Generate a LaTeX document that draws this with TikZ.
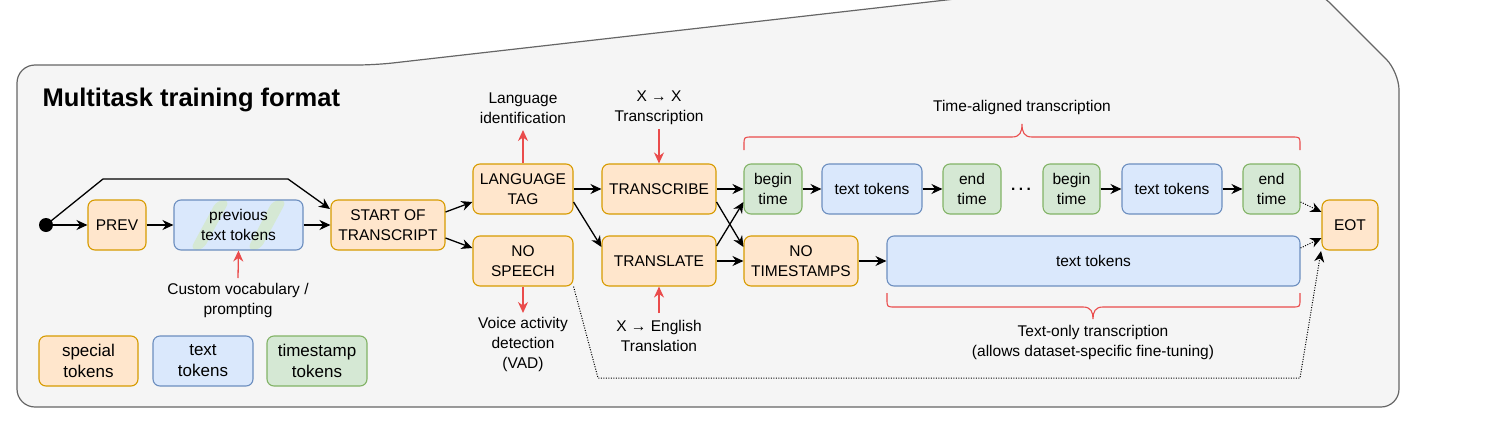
\documentclass[tikz,border=0pt]{standalone}
\usepackage{fontspec}
\setmainfont{Liberation Sans}
\usetikzlibrary{arrows.meta,calc}
\definecolor{ofill}{HTML}{FFE6CC}
\definecolor{odraw}{HTML}{D79B00}
\definecolor{bfill}{HTML}{DAE8FC}
\definecolor{bdraw}{HTML}{6C8EBF}
\definecolor{gfill}{HTML}{D5E8D4}
\definecolor{gdraw}{HTML}{82B366}
\definecolor{redc}{HTML}{EA4C4C}
\definecolor{bgfill}{HTML}{F5F5F5}
\definecolor{bgdraw}{HTML}{666666}
\begin{document}
\begin{tikzpicture}[x=1pt,y=-1pt,
 tok/.style={draw, rounded corners=7pt, line width=1.1pt, align=center, inner sep=0pt, minimum height=50pt, font=\fontsize{15.5}{19.5}\selectfont},
 spec/.style={tok, fill=ofill, draw=odraw},
 txt/.style={tok, fill=bfill, draw=bdraw},
 tim/.style={tok, fill=gfill, draw=gdraw},
 leg/.style={font=\fontsize{17}{21}\selectfont},
 lbl/.style={align=center, inner sep=0pt, font=\fontsize{15.5}{20}\selectfont},
 arr/.style={line width=1.3pt, -{Stealth[length=11pt,width=10pt]}},
 redarr/.style={line width=1.3pt, draw=redc, -{Stealth[length=11pt,width=10pt]}},
 dotarr/.style={line width=1pt, dash pattern=on 1pt off 1.5pt, -{Stealth[length=11pt,width=10pt]}},
 brace/.style={draw=redc, line width=1.1pt},
]
\useasboundingbox (0,0) rectangle (1488,434);
\clip (0,0) rectangle (1488,434);
% background callout shape
\draw[fill=bgfill, draw=bgdraw, line width=1.2pt, rounded corners=18pt]
  (200,407) -- (17,407) -- (17,65) -- (375,65) -- (1034,-10) -- (1317,-10) -- (1399,72) -- (1399,407) -- cycle;

\node[anchor=west, font=\fontsize{25.5}{30}\selectfont\bfseries] (title) at (39,100) {Multitask training format};

% nodes
\node[circle, fill=black, inner sep=0pt, minimum size=14pt] (dot) at (46,225) {};
\node[spec, minimum width=58pt] (prev) at (117,225) {PREV};
\node[txt, minimum width=129pt, path picture={
   \fill[gfill] ($(path picture bounding box.north west)+(43,0)$) -- ++(13,0) -- ($(path picture bounding box.north west)+(29,50)$) -- ++(-13,0) -- cycle;
   \fill[gfill] ($(path picture bounding box.north west)+(99,0)$) -- ++(14,0) -- ($(path picture bounding box.north west)+(86,50)$) -- ++(-13,0) -- cycle;
 }] (prevtxt) at (238.5,225) {previous\\text tokens};
\node[spec, minimum width=114pt] (sot) at (388,225) {START OF\\TRANSCRIPT};
\node[spec, minimum width=100pt] (lang) at (523,189) {LANGUAGE\\TAG};
\node[spec, minimum width=100pt] (nosp) at (523,261) {NO\\SPEECH};
\node[spec, minimum width=114pt] (trb) at (659,189) {TRANSCRIBE};
\node[spec, minimum width=114pt] (trl) at (659,261) {TRANSLATE};
\node[tim, minimum width=58pt] (bt1) at (773,189) {begin\\time};
\node[txt, minimum width=100pt] (tt1) at (872,189) {text tokens};
\node[tim, minimum width=58pt] (et1) at (972,189) {end\\time};
\node[font=\fontsize{15.5}{19}\selectfont\bfseries, inner sep=0pt] (dots) at (1021,189) {.\hspace{3.5pt}.\hspace{3.5pt}.};
\node[tim, minimum width=57pt] (bt2) at (1071.5,189) {begin\\time};
\node[txt, minimum width=100pt] (tt2) at (1172,189) {text tokens};
\node[tim, minimum width=57pt] (et2) at (1271.5,189) {end\\time};
\node[spec, minimum width=56pt] (eot) at (1350,225) {EOT};
\node[spec, minimum width=114pt] (nots) at (801,261) {NO\\TIMESTAMPS};
\node[txt, minimum width=413pt] (tt3) at (1093.5,261) {text tokens};

% legend
\node[spec, leg, minimum width=99pt] (lsp) at (88.5,361) {special\\tokens};
\node[txt, leg, minimum width=100pt] (ltx) at (203,361) {text\\tokens};
\node[tim, leg, minimum width=100pt] (lts) at (317,361) {timestamp\\tokens};

% labels
\node[lbl] (cvl) at (238,300) {Custom vocabulary /\\prompting};
\node[lbl] (lil) at (523,108) {Language\\identification};
\node[lbl] (xxl) at (659,108) {X → X\\Transcription};
\node[lbl] (vadl) at (523,344) {Voice activity\\detection\\(VAD)};
\node[lbl] (xel) at (659,336) {X → English\\Translation};
\node[lbl] (tal) at (1022,107) {Time-aligned transcription};
\node[lbl] (tol) at (1093,342) {Text-only transcription\\(allows dataset-specific fine-tuning)};

% coordinates
\coordinate (tp1) at (103,179);
\coordinate (tp2) at (288,179);
\coordinate (tpe) at (330,209);
\coordinate (cv) at (238,278);
\coordinate (li) at (523,130);
\coordinate (xx) at (659,129);
\coordinate (vad) at (523,313);
\coordinate (xe) at (659,313);
\coordinate (d1) at (598,378);
\coordinate (d2) at (1300,378);
\coordinate (de) at (1321,251);

% black connectors
\draw[arr] (dot) -- (prev);
\draw[arr] (prev) -- (prevtxt);
\draw[arr] (prevtxt) -- (sot);
\draw[arr] (dot.center) -- (tp1) -- (tp2) -- (tpe);
\draw[arr] ($(sot.east)+(0,-13)$) -- ($(lang.west)+(0,13)$);
\draw[arr] ($(sot.east)+(0,13)$) -- ($(nosp.west)+(0,-13)$);
\draw[arr] (lang) -- (trb);
\draw[arr] ($(lang.east)+(0,13)$) -- ($(trl.west)+(0,-14)$);
\draw[arr] (trb) -- (bt1);
\draw[arr] ($(trb.east)+(0,13)$) -- ($(nots.west)+(0,-14)$);
\draw[arr] ($(trl.east)+(0,-15)$) -- ($(bt1.west)+(0,13)$);
\draw[arr] (trl) -- (nots);
\draw[arr] (nots) -- (tt3);
\draw[arr] (bt1) -- (tt1);
\draw[arr] (tt1) -- (et1);
\draw[arr] (bt2) -- (tt2);
\draw[arr] (tt2) -- (et2);
\draw[dotarr] ($(et2.east)+(0,13)$) -- ($(eot.west)+(0,-13)$);
\draw[dotarr] ($(tt3.east)+(0,-13)$) -- ($(eot.west)+(0,13)$);
\draw[dotarr] (nosp.south east) -- (d1) -- (d2) -- (de);

% red arrows
\draw[redarr] (cv) -- (prevtxt.south);
\draw[redarr] (lang.north) -- (li);
\draw[redarr] (xx) -- (trb.north);
\draw[redarr] (nosp.south) -- (vad);
\draw[redarr] (xe) -- (trl.south);

% braces
\draw[brace] (744,150) -- (744,145) .. controls (744,137) .. (752,137) -- (1012,137)
  .. controls (1020,137) and (1022,132) .. (1022,124)
  .. controls (1022,132) and (1024,137) .. (1032,137) -- (1292,137)
  .. controls (1300,137) .. (1300,145) -- (1300,150);
\draw[brace] (887,293) -- (887,299) .. controls (887,307) .. (895,307) -- (1083,307)
  .. controls (1091,307) and (1093,312) .. (1093,319)
  .. controls (1093,312) and (1095,307) .. (1103,307) -- (1292,307)
  .. controls (1300,307) .. (1300,299) -- (1300,293);
\end{tikzpicture}
\end{document}
